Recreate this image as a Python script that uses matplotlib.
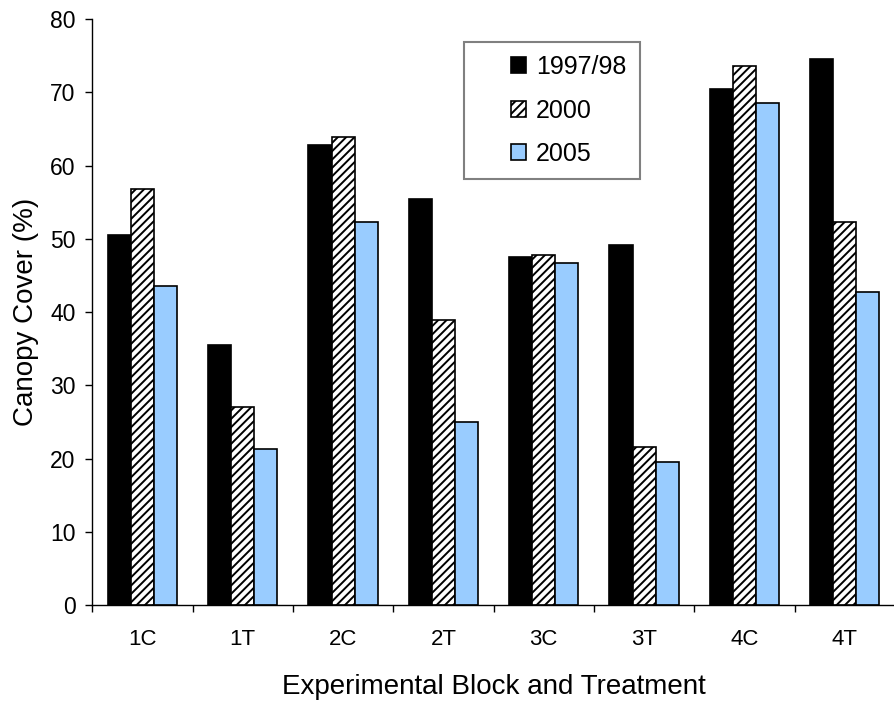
import numpy as np
import matplotlib
matplotlib.use("Agg")
import matplotlib.pyplot as plt
from matplotlib.patches import Rectangle

plt.rcParams['font.family'] = ['Liberation Sans', 'DejaVu Sans']
plt.rcParams['hatch.linewidth'] = 1.4

'''Data'''
categories = ['1C', '1T', '2C', '2T', '3C', '3T', '4C', '4T']
series_names = ['1997/98', '2000', '2005']
cover_1997 = [50.5, 35.5, 62.8, 55.4, 47.5, 49.1, 70.4, 74.5]
cover_2000 = [56.8, 27.0, 63.9, 38.9, 47.8, 21.6, 73.6, 52.3]
cover_2005 = [43.6, 21.3, 52.3, 25.0, 46.7, 19.6, 68.5, 42.8]

fig = plt.figure(figsize=(8.95, 7.03), dpi=100)
ax = fig.add_axes([0.103, 0.139, 0.897, 0.834])

x = np.arange(len(categories)) + 0.5
w = 0.23
b1 = ax.bar(x - w, cover_1997, w, color='black', edgecolor='black', linewidth=1.2, label=series_names[0])
b2 = ax.bar(x, cover_2000, w, color='white', edgecolor='black', hatch='////', linewidth=1.2, label=series_names[1])
b3 = ax.bar(x + w, cover_2005, w, color='#99CCFF', edgecolor='black', linewidth=1.2, label=series_names[2])

ax.set_xlim(0, len(categories))
ax.set_ylim(0, 80)
ax.set_yticks(np.arange(0, 81, 10))
ax.set_xticks(np.arange(0, len(categories)))
ax.set_xticklabels([])
ax.set_xticks(x, minor=True)
ax.set_xticklabels(categories, minor=True)
ax.tick_params(axis='x', which='major', direction='out', length=5, width=1)
ax.tick_params(axis='x', which='minor', length=0, pad=17, labelsize=16)
ax.tick_params(axis='y', direction='out', length=5, width=1, pad=7, labelsize=16.5)

for s in ['top', 'right']:
    ax.spines[s].set_visible(False)
for s in ['left', 'bottom']:
    ax.spines[s].set_linewidth(1)

ax.set_ylabel('Canopy Cover (%)', fontsize=20, labelpad=8)
ax.set_xlabel('Experimental Block and Treatment', fontsize=20, labelpad=17)

# legend box
frame = Rectangle((464 / 895, 1 - 179 / 703), 176 / 895, 137 / 703,
                  transform=fig.transFigure, facecolor='white',
                  edgecolor='#808080', linewidth=1.5, zorder=8, clip_on=False)
ax.add_patch(frame)
leg = ax.legend(handles=[b1, b2, b3], loc='upper left', bbox_to_anchor=(511 / 895, 1 - 55 / 703),
                bbox_transform=fig.transFigure, frameon=False, fontsize=18,
                handlelength=0.6, handleheight=0.6, handletextpad=0.4,
                labelspacing=0.78, borderpad=0, borderaxespad=0)
leg.set_zorder(10)

fig.savefig('out.png', dpi=100)
